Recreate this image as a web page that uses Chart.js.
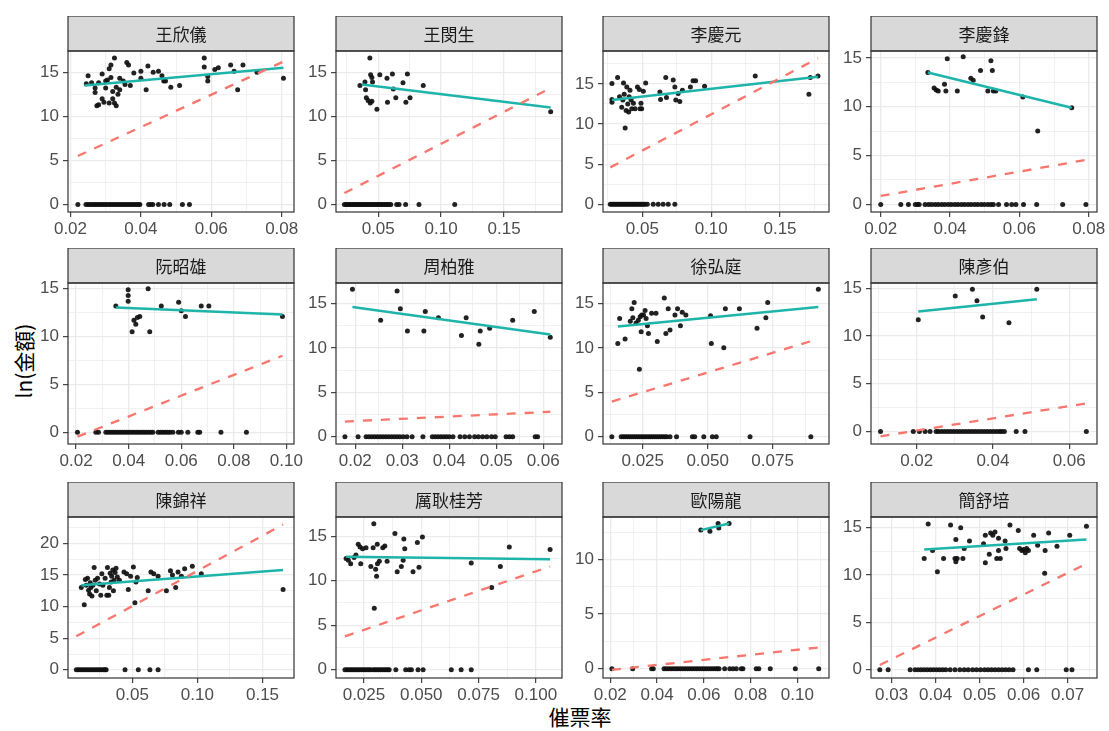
<!DOCTYPE html>
<html>
<head>
<meta charset="utf-8">
<script src="https://cdn.jsdelivr.net/npm/chart.js@4.4.0/dist/chart.umd.min.js"></script>
<style>
  body { margin: 0; background: #fff; width: 1109px; height: 731px; position: relative; overflow: hidden; }
  canvas { position: absolute; }
  #xtitle { position: absolute; left: 480px; top: 701px; width: 200px; text-align: center;
            font: 21px "Noto Sans CJK TC", sans-serif; color: #000; }
  #ytitle { position: absolute; left: -38px; top: 347px; width: 120px; height: 28px; line-height: 28px;
            text-align: center; transform: rotate(-90deg); font: 21px "Noto Sans CJK TC", sans-serif; color: #000; }
</style>
</head>
<body>
<div id="xtitle">催票率</div>
<div id="ytitle">ln(金額)</div>
<script>
// facet names
var names = ['王欣儀', '王閔生', '李慶元', '李慶鋒', '阮昭雄', '周柏雅', '徐弘庭', '陳彥伯', '陳錦祥', '厲耿桂芳', '歐陽龍', '簡舒培'];

// points with ln(amount) > 0, as [rate, ln]
var pts1 = [[0.0245,13.7],[0.025,14.6],[0.026,13.8],[0.027,13.2],[0.027,12.7],[0.0275,11.2],[0.028,13.8],[0.028,11.3],[0.029,14.8],[0.029,12.0],[0.0295,11.6],[0.030,14.0],[0.030,13.2],[0.0305,14.1],[0.031,15.4],[0.031,11.5],[0.0315,15.8],[0.0315,14.4],[0.032,12.8],[0.032,12.0],[0.0325,11.5],[0.0325,16.6],[0.033,13.3],[0.033,11.2],[0.0335,12.5],[0.034,14.3],[0.034,13.0],[0.035,14.0],[0.0355,13.6],[0.036,16.1],[0.0365,15.8],[0.037,13.5],[0.038,14.9],[0.040,15.1],[0.040,14.3],[0.0415,13.0],[0.042,15.7],[0.0435,15.0],[0.045,15.1],[0.046,14.6],[0.0465,14.0],[0.047,14.0],[0.0485,13.3],[0.051,13.5],[0.058,16.6],[0.058,15.6],[0.059,14.0],[0.059,14.5],[0.061,15.3],[0.062,15.5],[0.0655,15.8],[0.0665,15.1],[0.0675,13.0],[0.069,15.8],[0.073,15.0],[0.0805,14.3]];
var pts2 = [[0.0355,13.5],[0.0395,13.9],[0.040,13.0],[0.0406,12.1],[0.042,11.8],[0.0434,16.6],[0.0437,11.5],[0.044,14.7],[0.045,14.4],[0.0455,13.9],[0.045,11.7],[0.049,10.8],[0.0513,14.7],[0.057,14.3],[0.0574,11.6],[0.0613,14.8],[0.062,13.1],[0.064,12.1],[0.0697,13.8],[0.072,11.6],[0.0732,14.8],[0.0753,12.1],[0.0858,13.5],[0.187,10.5]];
var pts3 = [[0.0279,15.06],[0.0279,13.05],[0.0279,12.7],[0.032,15.8],[0.0334,13.4],[0.035,12.1],[0.0358,13.0],[0.0363,15.1],[0.0368,13.7],[0.0375,9.5],[0.0382,11.7],[0.0387,14.6],[0.0394,12.5],[0.040,11.5],[0.0404,13.4],[0.041,14.2],[0.0418,13.0],[0.0423,11.9],[0.0435,12.6],[0.0447,11.9],[0.0464,14.6],[0.0478,14.3],[0.0483,11.9],[0.049,12.6],[0.0495,11.9],[0.0507,14.1],[0.0524,15.1],[0.0627,14.0],[0.0632,13.05],[0.067,15.8],[0.0675,13.3],[0.0724,15.5],[0.0736,14.6],[0.0743,13.0],[0.076,13.8],[0.0772,12.8],[0.0791,14.2],[0.0849,14.6],[0.0868,15.4],[0.0887,15.4],[0.0952,14.7],[0.132,16.0],[0.171,13.7],[0.172,15.8],[0.1776,16.0]];
var pts4 = [[0.0336,13.5],[0.0354,11.9],[0.036,11.7],[0.0366,11.6],[0.0384,12.3],[0.0388,11.6],[0.0392,14.9],[0.0421,11.6],[0.0438,15.1],[0.046,12.9],[0.0467,12.7],[0.0488,13.7],[0.0509,11.6],[0.0518,14.7],[0.0522,13.7],[0.0525,11.6],[0.0532,11.6],[0.061,11.0],[0.0653,7.5],[0.0751,9.9]];
var pts5 = [[0.0351,13.2],[0.0398,14.9],[0.0398,14.3],[0.0398,13.7],[0.0413,10.5],[0.042,11.7],[0.0427,11.3],[0.0433,12.0],[0.0442,12.1],[0.0474,15.0],[0.048,10.5],[0.0524,13.2],[0.059,13.6],[0.060,12.7],[0.0616,12.1],[0.0676,13.2],[0.0705,13.2],[0.0985,12.1]];
var pts6 = [[0.0194,16.6],[0.0254,13.1],[0.0289,16.4],[0.0296,14.4],[0.0311,11.9],[0.0346,11.9],[0.0349,14.1],[0.0377,13.4],[0.0426,11.4],[0.0436,13.4],[0.0463,10.4],[0.0466,11.9],[0.0486,12.2],[0.0535,13.1],[0.0581,14.1],[0.0615,11.2]];
var pts7 = [[0.0154,10.5],[0.0161,13.3],[0.0182,11.0],[0.0202,13.0],[0.0208,14.4],[0.0212,13.4],[0.0217,15.1],[0.0224,12.8],[0.0233,13.1],[0.0237,7.6],[0.024,13.5],[0.0244,11.8],[0.0246,13.7],[0.0253,13.7],[0.0259,14.2],[0.0263,13.3],[0.0268,12.5],[0.0272,11.6],[0.0284,13.9],[0.0301,13.9],[0.0306,10.7],[0.0333,15.6],[0.0339,11.6],[0.0348,14.4],[0.0355,12.0],[0.0374,13.7],[0.0384,14.4],[0.0395,12.5],[0.0402,14.0],[0.0416,13.7],[0.0511,13.6],[0.0514,10.5],[0.0562,10.0],[0.0568,14.4],[0.0622,14.4],[0.069,12.2],[0.0724,13.4],[0.0731,15.1],[0.0926,16.6]];
var pts8 = [[0.0204,11.7],[0.0301,14.2],[0.0346,14.9],[0.0358,13.7],[0.0373,12.0],[0.0442,11.4],[0.0515,14.9]];
var pts9 = [[0.0108,13.05],[0.0131,10.3],[0.0139,14.3],[0.0146,13.4],[0.0156,14.5],[0.0164,12.6],[0.0172,12.0],[0.0177,13.8],[0.0182,13.05],[0.019,11.7],[0.0197,13.4],[0.0207,16.2],[0.0215,14.2],[0.0223,12.5],[0.0233,14.5],[0.0248,13.6],[0.0258,11.8],[0.0266,15.2],[0.0274,13.4],[0.0291,14.5],[0.0304,11.8],[0.0309,16.2],[0.0319,11.8],[0.0324,13.05],[0.033,15.3],[0.0337,13.9],[0.0342,14.8],[0.035,15.8],[0.0355,12.5],[0.036,14.2],[0.0368,15.4],[0.0375,16.1],[0.0385,14.7],[0.0401,14.2],[0.0436,15.5],[0.0457,15.2],[0.0469,12.7],[0.0487,14.8],[0.0508,16.3],[0.052,10.6],[0.0528,13.9],[0.0538,14.6],[0.0622,12.5],[0.0643,15.5],[0.0665,15.2],[0.0698,14.8],[0.0762,12.5],[0.0793,15.7],[0.0808,15.0],[0.0833,13.05],[0.0851,15.5],[0.0877,14.8],[0.0902,16.0],[0.0961,16.4],[0.103,15.2],[0.1658,12.7]];
var pts10 = [[0.0172,12.5],[0.0182,12.3],[0.0192,11.9],[0.0207,12.6],[0.0215,12.9],[0.0225,14.1],[0.0233,13.8],[0.0236,11.9],[0.0244,13.6],[0.0259,13.7],[0.028,11.6],[0.029,13.7],[0.0293,16.4],[0.0295,6.9],[0.0301,11.3],[0.0305,10.5],[0.0308,14.1],[0.0309,11.9],[0.0317,12.2],[0.0332,13.7],[0.0341,13.9],[0.0351,12.2],[0.0385,15.3],[0.0395,11.0],[0.0413,11.6],[0.0421,12.3],[0.0424,14.7],[0.0428,13.6],[0.0464,11.0],[0.0483,14.3],[0.049,11.5],[0.0505,14.9],[0.0718,12.0],[0.0807,9.25],[0.0845,11.6],[0.0884,13.8],[0.1062,13.5]];
var pts11 = [[0.0587,12.7],[0.0626,12.6],[0.0661,13.3],[0.0664,12.9],[0.0708,13.3]];
var pts12 = [[0.0374,11.75],[0.0383,15.4],[0.0393,12.6],[0.0404,10.35],[0.0418,11.75],[0.0434,15.3],[0.0444,11.75],[0.0446,13.75],[0.0446,11.4],[0.0449,11.75],[0.0457,15.0],[0.0462,11.75],[0.0465,12.8],[0.0477,13.6],[0.0509,13.3],[0.0513,11.3],[0.0513,14.2],[0.0522,12.2],[0.0525,14.45],[0.053,14.2],[0.0535,14.55],[0.0539,11.75],[0.0543,13.9],[0.0543,12.6],[0.0547,11.75],[0.0558,13.6],[0.056,12.8],[0.0569,15.3],[0.0588,14.7],[0.0591,12.8],[0.0596,12.6],[0.06,12.7],[0.0604,12.35],[0.0607,12.8],[0.0611,12.6],[0.0623,14.2],[0.0632,13.15],[0.0649,12.6],[0.0648,10.2],[0.0657,14.45],[0.0676,13.05],[0.0705,14.2],[0.0743,15.15]];

// rates where ln(amount) == 0
var zero1 = [0.0221,0.0244,0.0250,0.0256,0.0262,0.0268,0.0273,0.0279,0.0285,0.0291,0.0297,0.0303,0.0309,0.0315,0.0321,0.0327,0.0333,0.0339,0.0345,0.0351,0.0357,0.0363,0.0369,0.0375,0.0381,0.0387,0.0393,0.0397,0.0422,0.0428,0.0434,0.0450,0.0466,0.0482,0.0518,0.0538];
var zero2 = [0.0232,0.0245,0.0258,0.0270,0.0283,0.0296,0.0308,0.0321,0.0334,0.0346,0.0359,0.0372,0.0384,0.0397,0.0410,0.0422,0.0435,0.0448,0.0460,0.0473,0.0486,0.0498,0.0511,0.0524,0.0536,0.0549,0.0562,0.0574,0.0587,0.0600,0.0647,0.0666,0.0718,0.0824,0.1108];
var zero3 = [0.0267,0.0279,0.0290,0.0302,0.0313,0.0325,0.0336,0.0348,0.0359,0.0371,0.0382,0.0394,0.0405,0.0417,0.0428,0.0440,0.0451,0.0463,0.0474,0.0486,0.0497,0.0509,0.0520,0.0536,0.0579,0.0615,0.0651,0.0688,0.0736];
var zero4 = [0.0200,0.0258,0.0280,0.0300,0.0306,0.0311,0.0328,0.0338,0.0347,0.0357,0.0366,0.0376,0.0385,0.0395,0.0404,0.0414,0.0423,0.0433,0.0442,0.0452,0.0461,0.0471,0.0480,0.0490,0.0499,0.0509,0.0518,0.0525,0.0540,0.0563,0.0578,0.0590,0.0612,0.0650,0.0725,0.0792];
var zero5 = [0.0205,0.0275,0.0285,0.0313,0.0322,0.0331,0.0340,0.0349,0.0358,0.0367,0.0376,0.0385,0.0394,0.0403,0.0412,0.0421,0.0430,0.0439,0.0448,0.0457,0.0466,0.0475,0.0484,0.0492,0.0512,0.0521,0.0530,0.0539,0.0548,0.0557,0.0568,0.0589,0.0600,0.0625,0.0663,0.0670,0.0751,0.0848];
var zero6 = [0.0178,0.0206,0.0223,0.0229,0.0235,0.0241,0.0247,0.0253,0.0259,0.0265,0.0271,0.0277,0.0283,0.0289,0.0295,0.0302,0.0310,0.0321,0.0344,0.0364,0.0370,0.0376,0.0382,0.0388,0.0394,0.0400,0.0408,0.0423,0.0433,0.0443,0.0454,0.0462,0.0471,0.0480,0.0490,0.0498,0.0521,0.0528,0.0535,0.0583,0.0588];
var zero7 = [0.0131,0.0167,0.0175,0.0183,0.0191,0.0199,0.0207,0.0215,0.0223,0.0231,0.0239,0.0247,0.0255,0.0263,0.0271,0.0279,0.0287,0.0295,0.0303,0.0311,0.0319,0.0327,0.0335,0.0343,0.0355,0.0380,0.0441,0.0450,0.0485,0.0518,0.0533,0.0663,0.0897];
var zero8 = [0.0105,0.0191,0.0207,0.0222,0.0235,0.0251,0.0257,0.0265,0.0273,0.0281,0.0289,0.0297,0.0305,0.0313,0.0321,0.0329,0.0337,0.0345,0.0353,0.0361,0.0369,0.0377,0.0385,0.0393,0.0401,0.0409,0.0417,0.0423,0.0430,0.0461,0.0484,0.0645];
var zero9 = [0.0070,0.0085,0.0100,0.0115,0.0130,0.0145,0.0160,0.0175,0.0190,0.0205,0.0220,0.0235,0.0250,0.0265,0.0280,0.0290,0.0299,0.0444,0.0546,0.0635,0.0698];
var zero10 = [0.0167,0.0175,0.0183,0.0191,0.0199,0.0207,0.0215,0.0223,0.0231,0.0239,0.0247,0.0255,0.0263,0.0271,0.0279,0.0290,0.0298,0.0306,0.0314,0.0322,0.0330,0.0338,0.0346,0.0354,0.0360,0.0389,0.0432,0.0447,0.0457,0.0486,0.0508,0.0631,0.0674,0.0718];
var zero11 = [0.0207,0.0296,0.0377,0.0384,0.0430,0.0440,0.0450,0.0460,0.0470,0.0480,0.0490,0.0500,0.0510,0.0520,0.0530,0.0540,0.0550,0.0560,0.0570,0.0580,0.0590,0.0600,0.0610,0.0620,0.0630,0.0640,0.0650,0.0658,0.0665,0.0689,0.0711,0.0725,0.0739,0.0760,0.0767,0.0824,0.0835,0.0884,0.0991,0.1091];
var zero12 = [0.0273,0.0292,0.0342,0.0353,0.0360,0.0367,0.0374,0.0381,0.0388,0.0395,0.0402,0.0409,0.0416,0.0423,0.0433,0.0444,0.0455,0.0465,0.0474,0.0484,0.0493,0.0502,0.0511,0.0519,0.0527,0.0535,0.0543,0.0551,0.0559,0.0567,0.0576,0.0611,0.0630,0.0697,0.0710];

// fitted lines: teal = positive points only, red dashed = all points (end points)
var teal = [
  [[0.024,13.5],[0.0805,15.5]], [[0.037,13.6],[0.187,11.0]], [[0.0279,13.0],[0.1776,15.9]], [[0.0336,13.5],[0.0751,9.9]],
  [[0.0351,13.05],[0.0985,12.3]], [[0.0194,14.6],[0.0615,11.5]], [[0.0154,12.4],[0.0926,14.6]], [[0.0204,12.56],[0.0515,13.86]],
  [[0.0108,13.4],[0.1658,15.8]], [[0.0172,12.7],[0.1062,12.4]], [[0.0587,12.7],[0.0708,13.3]], [[0.0374,12.7],[0.0743,13.75]]
];
var red = [
  [[0.0221,5.5],[0.0805,16.2]], [[0.0232,1.3],[0.187,13.2]], [[0.0267,4.6],[0.1776,18.2]], [[0.020,0.86],[0.0792,4.55]],
  [[0.0205,-0.45],[0.0985,8.0]], [[0.0178,1.7],[0.0615,2.8]], [[0.0131,3.95],[0.0926,11.0]], [[0.0105,-0.5],[0.0645,2.95]],
  [[0.007,5.3],[0.1658,23.0]], [[0.0167,3.75],[0.1062,11.6]], [[0.0207,-0.1],[0.1091,1.95]], [[0.0273,0.5],[0.0743,11.2]]
];

// axis limits and tick steps per facet
var xLims = [[0.0193,0.0835],[0.0165,0.1960],[0.0214,0.1856],[0.0172,0.0824],[0.0169,0.1029],[0.0159,0.0640],
             [0.0097,0.0967],[0.0080,0.0673],[0.0006,0.1742],[0.0128,0.1114],[0.0169,0.1135],[0.0253,0.0767]];
var yLims = [[-0.85,17.4],[-0.85,17.4],[-0.96,19.1],[-0.78,15.7],[-1.22,15.6],[-0.83,17.3],
             [-0.83,17.3],[-1.3,15.55],[-1.3,24.2],[-0.93,17.16],[-0.85,13.9],[-0.88,16.14]];
var xSteps = [0.02, 0.05, 0.05, 0.02, 0.02, 0.01, 0.025, 0.02, 0.05, 0.025, 0.02, 0.01];
var ySteps = [5, 5, 5, 5, 5, 5, 5, 5, 5, 5, 5, 5];

var ptsAll = [pts1, pts2, pts3, pts4, pts5, pts6, pts7, pts8, pts9, pts10, pts11, pts12];
var zeroAll = [zero1, zero2, zero3, zero4, zero5, zero6, zero7, zero8, zero9, zero10, zero11, zero12];

// page layout
var colLeft = [68, 336, 603, 871];
var rowTop = [51, 283, 517];
var PW = 226, PH = 161, STRIP = 35, YW = 44, XH = 30, PADR = 26;

function tickList(min, max, step) {
  var h = step / 2, out = [];
  for (var k = Math.ceil(min / h - 1e-9); k * h <= max + 1e-9; k++) out.push({ value: +(k * h).toFixed(6) });
  return out;
}
function isMajor(v, step) {
  var r = v / step;
  return Math.abs(r - Math.round(r)) < 1e-6;
}

var facetStrip = {
  id: 'facetStrip',
  afterDraw: function (chart, args, opts) {
    var ctx = chart.ctx, a = chart.chartArea;
    ctx.save();
    ctx.fillStyle = '#D9D9D9';
    ctx.fillRect(a.left, a.top - STRIP, a.right - a.left, STRIP);
    ctx.strokeStyle = '#333333';
    ctx.lineWidth = 1.2;
    ctx.strokeRect(a.left, a.top - STRIP, a.right - a.left, STRIP);
    ctx.strokeRect(a.left, a.top, a.right - a.left, a.bottom - a.top);
    ctx.fillStyle = '#1A1A1A';
    ctx.font = '17px "Noto Sans CJK TC", sans-serif';
    ctx.textAlign = 'center';
    ctx.textBaseline = 'middle';
    ctx.fillText(opts.title, (a.left + a.right) / 2, a.top - STRIP / 2 + 1);
    ctx.restore();
  }
};

var tickFont = { family: '"Liberation Sans", Arial, sans-serif', size: 17 };

names.forEach(function (name, i) {
  var col = i % 4, row = Math.floor(i / 4);
  var xs = xSteps[i], ys = ySteps[i];
  var dec = xs === 0.025 ? 3 : 2;
  var cv = document.createElement('canvas');
  var w = YW + PW + PADR, h = STRIP + PH + XH;
  cv.width = w; cv.height = h;
  cv.style.width = w + 'px'; cv.style.height = h + 'px';
  cv.style.left = (colLeft[col] - YW) + 'px';
  cv.style.top = (rowTop[row] - STRIP) + 'px';
  document.body.appendChild(cv);

  function grid(step) {
    return {
      color: '#EBEBEB',
      lineWidth: function (c) { return c.tick && isMajor(c.tick.value, step) ? 1.3 : 0.7; },
      tickColor: function (c) { return c.tick && isMajor(c.tick.value, step) ? '#333333' : 'rgba(0,0,0,0)'; },
      tickLength: 5,
      tickWidth: 1.1
    };
  }

  new Chart(cv, {
    type: 'scatter',
    data: {
      datasets: [
        { data: ptsAll[i].map(function (p) { return { x: p[0], y: p[1] }; }).concat(zeroAll[i].map(function (x) { return { x: x, y: 0 }; })),
          pointRadius: 2.5, backgroundColor: 'rgba(15,15,15,0.92)', borderWidth: 0, order: 2 },
        { type: 'line', data: teal[i].map(function (p) { return { x: p[0], y: p[1] }; }),
          borderColor: '#1EB4AA', borderWidth: 2.5, pointRadius: 0, showLine: true, fill: false, order: 1 },
        { type: 'line', data: red[i].map(function (p) { return { x: p[0], y: p[1] }; }),
          borderColor: '#F8766D', borderWidth: 2.3, borderDash: [9, 9], pointRadius: 0, showLine: true, fill: false, order: 0 }
      ]
    },
    options: {
      responsive: false,
      animation: false,
      events: [],
      layout: { padding: { top: STRIP, right: PADR, left: 0, bottom: 0 } },
      plugins: { legend: { display: false }, tooltip: { enabled: false }, facetStrip: { title: name } },
      scales: {
        x: {
          type: 'linear', min: xLims[i][0], max: xLims[i][1],
          afterBuildTicks: function (s) { s.ticks = tickList(xLims[i][0], xLims[i][1], xs); },
          afterFit: function (s) { s.height = XH; },
          ticks: { autoSkip: false, maxRotation: 0, minRotation: 0, padding: 2, color: '#4D4D4D', font: tickFont,
                   callback: function (v) { return isMajor(v, xs) ? v.toFixed(dec) : ''; } },
          grid: grid(xs),
          border: { display: false }
        },
        y: {
          type: 'linear', min: yLims[i][0], max: yLims[i][1],
          afterBuildTicks: function (s) { s.ticks = tickList(yLims[i][0], yLims[i][1], ys); },
          afterFit: function (s) { s.width = YW; },
          ticks: { autoSkip: false, padding: 4, color: '#4D4D4D', font: tickFont,
                   callback: function (v) { return isMajor(v, ys) ? String(Math.round(v)) : ''; } },
          grid: grid(ys),
          border: { display: false }
        }
      }
    },
    plugins: [facetStrip]
  });
});
</script>
</body>
</html>
